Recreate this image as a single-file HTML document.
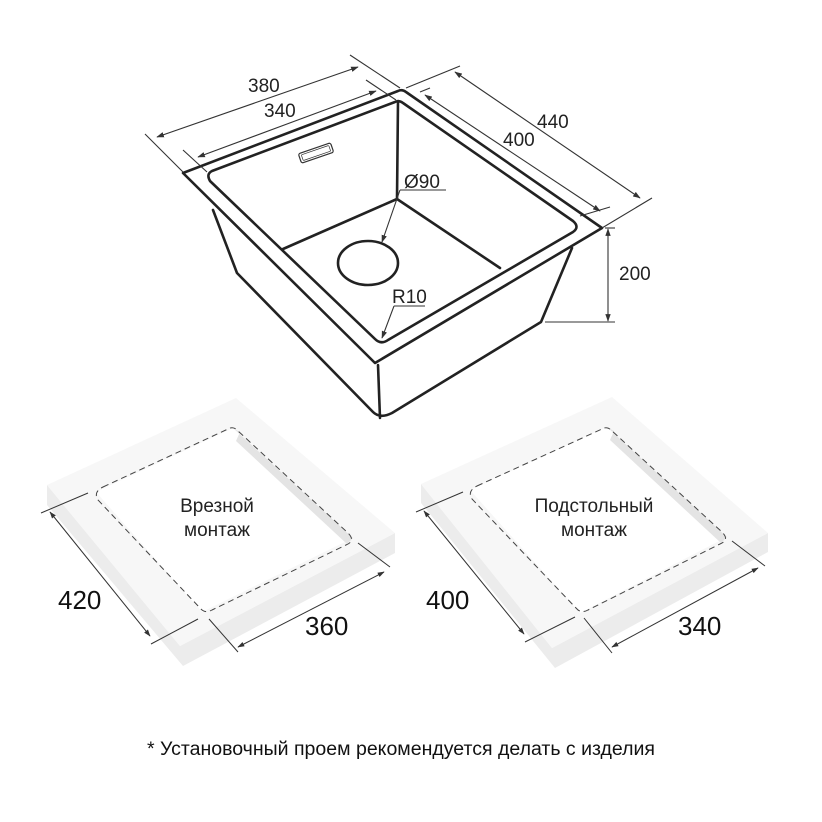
<!DOCTYPE html>
<html><head><meta charset="utf-8"><style>
html,body{margin:0;padding:0;background:#fff;width:822px;height:822px;overflow:hidden}
svg{display:block}
text{font-family:"Liberation Sans","DejaVu Sans",sans-serif}
</style></head><body>
<svg width="822" height="822" viewBox="0 0 822 822" xmlns="http://www.w3.org/2000/svg">
<defs>
<marker id="a" viewBox="0 0 10 10" refX="9" refY="5" markerWidth="7" markerHeight="7" orient="auto-start-reverse"><path d="M0,1.5 L10,5 L0,8.5 z" fill="#333"/></marker>
</defs>
<!-- SINK -->
<g fill="none" stroke="#222" stroke-width="2.6" stroke-linejoin="round" stroke-linecap="round">
  <path d="M213,210 L237,273 L373,412 Q380,419 392,413 L541,322 L572,248"/>
  <path d="M378,365 L380,418"/>
  <path d="M183,173 L398,91 Q402,89 406,92 L602,228 L375,363 Z"/>
  <path d="M212,171 L395,102 Q399,100 403,103 L573,221 Q580,227 573,232 L388,340 Q381,345 375,339 L210,181 Q206,174 212,171 Z"/>
  <path d="M398,101 L397,199 M283,249 L397,199 L500,268"/>
  <ellipse cx="368" cy="263" rx="30" ry="22"/>
</g>
<g transform="translate(316,153) rotate(-19)">
  <rect x="-17" y="-5" width="34" height="10" rx="2" fill="#fff" stroke="#333" stroke-width="1.2"/>
  <rect x="-14.5" y="-3" width="29" height="6" rx="1" fill="none" stroke="#333" stroke-width="0.7"/>
</g>
<g stroke="#333" stroke-width="1.1" fill="none">
  <line x1="145" y1="134" x2="183" y2="172"/>
  <line x1="350" y1="55" x2="400" y2="88"/>
  <line x1="157" y1="137" x2="358" y2="67" marker-start="url(#a)" marker-end="url(#a)"/>
  <line x1="183" y1="150" x2="207" y2="172"/>
  <line x1="366" y1="80" x2="396" y2="100"/>
  <line x1="198" y1="157" x2="376" y2="91" marker-start="url(#a)" marker-end="url(#a)"/>
  <line x1="406" y1="88" x2="460" y2="66"/>
  <line x1="602" y1="228" x2="652" y2="198"/>
  <line x1="455" y1="72" x2="640" y2="198" marker-start="url(#a)" marker-end="url(#a)"/>
  <line x1="420" y1="92" x2="430" y2="88"/>
  <line x1="580" y1="216" x2="610" y2="207"/>
  <line x1="425" y1="95" x2="600" y2="211" marker-start="url(#a)" marker-end="url(#a)"/>
  <line x1="605" y1="228" x2="615" y2="228"/>
  <line x1="545" y1="322" x2="615" y2="322"/>
  <line x1="608" y1="229" x2="608" y2="321" marker-start="url(#a)" marker-end="url(#a)"/>
  <line x1="400" y1="190" x2="446" y2="190"/>
  <line x1="400" y1="190" x2="382" y2="242" marker-end="url(#a)"/>
  <line x1="394" y1="306" x2="425" y2="306"/>
  <line x1="394" y1="306" x2="382" y2="338" marker-end="url(#a)"/>
</g>
<g fill="#222" font-size="19">
  <text x="248" y="92">380</text>
  <text x="264" y="117">340</text>
  <text x="537" y="128">440</text>
  <text x="503" y="146">400</text>
  <text x="619" y="280">200</text>
  <text x="404" y="188">Ø90</text>
  <text x="392" y="303">R10</text>
</g>

<!-- COUNTERTOP 1 -->
<g>
  <path d="M47,485 L47,505 L183,666 L395,553 L395,533 L180,646 Z" fill="#ececec"/>
  <path d="M47,485 L236,398 L395,533 L180,646 Z" fill="#f7f7f7"/>
  <path d="M96,492 L233,428 L353,538 L202,612 Z" fill="#fff"/>
  <path d="M233,428 L353,538 L347,544 L236,441 L240,432 Z" fill="#e4e4e4"/>
  <path d="M103,487 L228,429 Q233,426 237,430 L348,533 Q356,541 346,545 L212,610 Q205,614 200,608 L98,500 Q93,492 103,487 Z" fill="none" stroke="#444" stroke-width="1" stroke-dasharray="6,4"/>
  <g stroke="#333" stroke-width="1" fill="none">
    <line x1="41" y1="513" x2="88" y2="493"/>
    <line x1="151" y1="644" x2="198" y2="619"/>
    <line x1="50" y1="512" x2="150" y2="636" marker-start="url(#a)" marker-end="url(#a)"/>
    <line x1="358" y1="543" x2="390" y2="567"/>
    <line x1="209" y1="619" x2="238" y2="652"/>
    <line x1="238" y1="647" x2="384" y2="572" marker-start="url(#a)" marker-end="url(#a)"/>
  </g>
  <text x="217" y="512" font-size="19" text-anchor="middle" fill="#222">Врезной</text>
  <text x="217" y="536" font-size="19" text-anchor="middle" fill="#222">монтаж</text>
  <text x="58" y="609" font-size="26" fill="#111">420</text>
  <text x="305" y="635" font-size="26" fill="#111">360</text>
</g>

<!-- COUNTERTOP 2 -->
<g>
  <path d="M421,484 L421,503 L555,668 L768,552 L768,533 L552,648 Z" fill="#ececec"/>
  <path d="M421,484 L612,397 L768,533 L552,648 Z" fill="#f7f7f7"/>
  <path d="M470,490 L607,427 L727,537 L580,613 Z" fill="#fff"/>
  <path d="M607,427 L727,537 L721,543 L610,440 L614,431 Z" fill="#e4e4e4"/>
  <path d="M477,486 L602,429 Q607,426 611,430 L722,532 Q730,540 720,544 L588,610 Q581,614 576,608 L472,499 Q467,491 477,486 Z" fill="none" stroke="#444" stroke-width="1" stroke-dasharray="6,4"/>
  <g stroke="#333" stroke-width="1" fill="none">
    <line x1="416" y1="512" x2="463" y2="492"/>
    <line x1="525" y1="642" x2="575" y2="617"/>
    <line x1="424" y1="511" x2="524" y2="634" marker-start="url(#a)" marker-end="url(#a)"/>
    <line x1="732" y1="541" x2="765" y2="566"/>
    <line x1="584" y1="618" x2="612" y2="653"/>
    <line x1="612" y1="647" x2="758" y2="568" marker-start="url(#a)" marker-end="url(#a)"/>
  </g>
  <text x="594" y="512" font-size="19" text-anchor="middle" fill="#222">Подстольный</text>
  <text x="594" y="536" font-size="19" text-anchor="middle" fill="#222">монтаж</text>
  <text x="426" y="609" font-size="26" fill="#111">400</text>
  <text x="678" y="635" font-size="26" fill="#111">340</text>
</g>

<text x="147" y="755" font-size="19" textLength="508" lengthAdjust="spacingAndGlyphs" fill="#111">* Установочный проем рекомендуется делать с изделия</text>
</svg>
</body></html>
